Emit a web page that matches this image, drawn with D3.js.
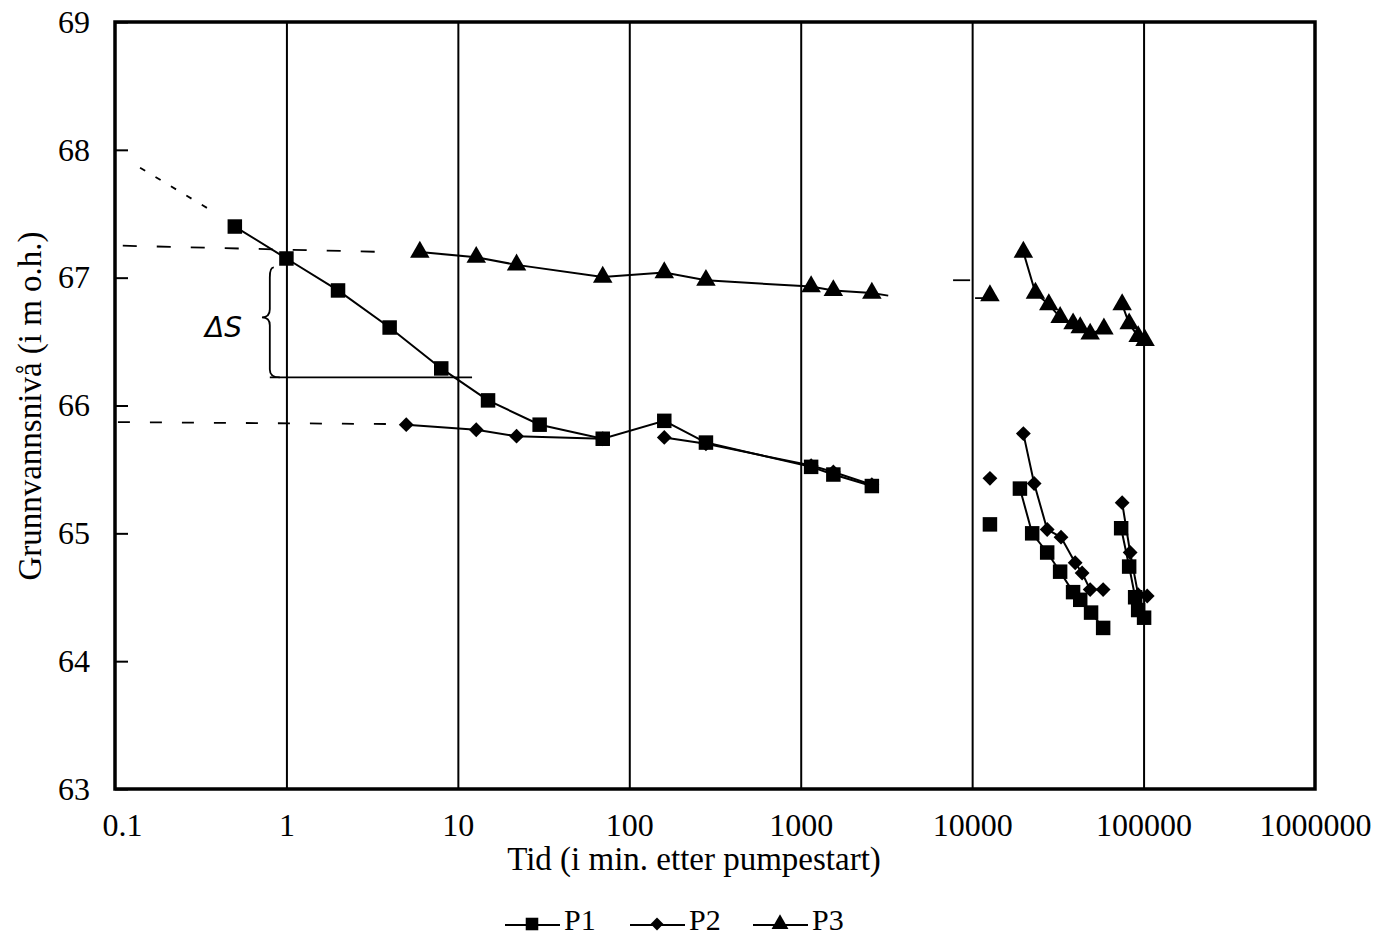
<!DOCTYPE html>
<html>
<head>
  <meta charset="utf-8">
  <title>Grunnvannsnivå</title>
  <script src="https://d3js.org/d3.v7.min.js"></script>
  <style>
    body { margin: 0; background: #fff; }
    svg text { font-family: "Liberation Serif", "Times New Roman", serif; fill: #000; }
    .serie path.linje { fill: none; stroke: #000; stroke-width: 2; }
    .hjelp { fill: none; stroke: #000; stroke-width: 1.8; }
  </style>
</head>
<body>
<svg id="graf" width="1389" height="941"></svg>
<script>
"use strict"

// akser
var tidTicks = [0.1, 1, 10, 100, 1000, 10000, 100000, 1000000];
var tidLabels = ["0.1", "1", "10", "100", "1000", "10000", "100000", "1000000"];
var nivaTicks = [63, 64, 65, 66, 67, 68, 69];

// måleserier (null = brudd i linja)
var p1Tid = [0.5, 1, 2, 4, 8, 15, 30, 70, 160, 280, 1150, 1550, 2600, null, 12700, null,
             19000, 22400, 27400, 32600, 38800, 42700, 49400, 58100, null,
             74000, 82400, 89300, 93000, 100700];
var p1Niva = [67.40, 67.15, 66.90, 66.61, 66.29, 66.04, 65.85, 65.74, 65.88, 65.71, 65.52, 65.46, 65.37, null, 65.07, null,
              65.35, 65.00, 64.85, 64.70, 64.54, 64.48, 64.38, 64.26, null,
              65.04, 64.74, 64.50, 64.40, 64.34];

var p2Tid = [5, 12.8, 22, 70, null, 160, 280, 1150, 1550, 2600, null, 12700, null,
             19900, 23000, 27400, 33000, 39900, 43800, 48800, 58100, null,
             75000, 83500, 93000, 105000];
var p2Niva = [65.85, 65.81, 65.76, 65.74, null, 65.75, 65.70, 65.53, 65.48, 65.38, null, 65.43, null,
              65.78, 65.39, 65.03, 64.97, 64.77, 64.69, 64.56, 64.56, null,
              65.24, 64.85, 64.52, 64.51];

var p3Tid = [6, 12.8, 22, 70, 160, 280, 1150, 1550, 2600, null, 12700, null,
             19900, 23400, 28000, 32600, 38800, 42700, 48800, 58700, null,
             75000, 82400, 93000, 102000];
var p3Niva = [67.20, 67.16, 67.10, 67.005, 67.04, 66.98, 66.93, 66.90, 66.88, null, 66.86, null,
              67.20, 66.88, 66.79, 66.69, 66.64, 66.61, 66.56, 66.60, null,
              66.79, 66.64, 66.54, 66.51];

// hjelpelinjer [tid1, niva1, tid2, niva2]
var ekstrapolering = [0.14, 67.86, 0.37, 67.52];
var startNivaP3 = [0.111, 67.25, 4.0, 67.20];
var startNivaP2 = [0.104, 65.87, 4.0, 65.855];
var forlengelseP3 = [2600, 66.88, 3240, 66.86];
var bruddStreker = [[7740, 66.98, 9730, 66.98], [10400, 66.84, 11900, 66.84]];
var deltaS = { tid: 0.80, spiss: 0.72, topp: 67.08, midt: 66.69, bunn: 66.22, slutt: 12.1 };
var deltaSTekst = { tid: 0.335, niva: 66.535 };

var serier = [
  { navn: "P1", tid: p1Tid, niva: p1Niva, symbol: d3.symbolSquare, str: 210, rot: 0 },
  { navn: "P2", tid: p2Tid, niva: p2Niva, symbol: d3.symbolSquare, str: 110, rot: 45 },
  { navn: "P3", tid: p3Tid, niva: p3Niva, symbol: d3.symbolTriangle, str: 165, rot: 0 }
];

var margin = { top: 22, right: 74, bottom: 152, left: 115 },
    bredde = 1389 - margin.left - margin.right,
    hoyde = 941 - margin.top - margin.bottom;

var svg = d3.select("#graf");
var g = svg.append("g").attr("transform", "translate(" + margin.left + "," + margin.top + ")");

var x = d3.scaleLog().domain([0.1, 1000000]).range([0, bredde]);
var y = d3.scaleLinear().domain([63, 69]).range([hoyde, 0]);

// vertikale linjer pr. dekade
g.append("g")
  .call(d3.axisBottom(x).tickValues(tidTicks.slice(1, -1)).tickSize(hoyde).tickFormat(""))
  .call(a => a.select(".domain").remove())
  .call(a => a.selectAll("line").attr("stroke-width", 2));

// x-akse tekst
g.append("g")
  .attr("transform", "translate(0," + hoyde + ")")
  .call(d3.axisBottom(x).tickValues(tidTicks).tickSize(0).tickPadding(24)
        .tickFormat((d, i) => tidLabels[i]))
  .call(a => a.select(".domain").remove())
  .call(a => a.selectAll("text").attr("font-size", 32).style("font-family", "Liberation Serif"))
  .call(a => a.selectAll(".tick").filter(d => d === 0.1).select("text").attr("dx", 7));

// y-akse
g.append("g")
  .call(d3.axisLeft(y).tickValues(nivaTicks).tickSize(-13).tickPadding(25).tickFormat(d3.format("d")))
  .call(a => a.select(".domain").remove())
  .call(a => a.selectAll("line").attr("stroke-width", 2))
  .call(a => a.selectAll("text").attr("font-size", 32).style("font-family", "Liberation Serif"));

// ramme
g.append("rect")
  .attr("x", 0).attr("y", 0).attr("width", bredde).attr("height", hoyde)
  .attr("fill", "none").attr("stroke", "#000").attr("stroke-width", 3.5);

// hjelpelinjer
function segment(s, dash) {
  g.append("line").attr("class", "hjelp")
    .attr("x1", x(s[0])).attr("y1", y(s[1]))
    .attr("x2", x(s[2])).attr("y2", y(s[3]))
    .attr("stroke-dasharray", dash);
}
segment(ekstrapolering, "6,12");
segment(startNivaP3, "14,20");
segment(startNivaP2, "12,20");
segment(forlengelseP3, null);
bruddStreker.forEach(s => segment(s, null));

// ΔS klamme
var bx = x(deltaS.tid), sx = x(deltaS.spiss);
var yt = y(deltaS.topp), ym = y(deltaS.midt), yb = y(deltaS.bunn);
var klamme = d3.path();
klamme.moveTo(bx + 4, yt);
klamme.quadraticCurveTo(bx, yt, bx, yt + 10);
klamme.lineTo(bx, ym - 8);
klamme.quadraticCurveTo(bx, ym, sx, ym);
klamme.quadraticCurveTo(bx, ym, bx, ym + 8);
klamme.lineTo(bx, yb - 8);
klamme.quadraticCurveTo(bx, yb, bx + 10, yb);
g.append("path").attr("class", "hjelp").attr("stroke-width", 1.5).attr("d", klamme.toString());
g.append("line").attr("class", "hjelp").attr("stroke-width", 1.5)
  .attr("x1", bx).attr("y1", yb).attr("x2", x(deltaS.slutt)).attr("y2", yb);
g.append("text")
  .attr("x", x(deltaSTekst.tid)).attr("y", y(deltaSTekst.niva))
  .attr("font-size", 28).attr("font-style", "italic")
  .style("font-family", "DejaVu Sans").style("font-weight", 200)
  .text("ΔS");

// serier
var linje = d3.line()
  .defined(d => d.niva != null)
  .x(d => x(d.tid)).y(d => y(d.niva));

serier.forEach(function (s) {
  var data = s.tid.map((t, i) => ({ tid: t, niva: s.niva[i] }));
  var gs = g.append("g").attr("class", "serie");
  gs.append("path").attr("class", "linje").attr("d", linje(data));
  gs.selectAll("path.punkt")
    .data(data.filter(d => d.niva != null))
    .enter().append("path")
    .attr("class", "punkt")
    .attr("d", d3.symbol().type(s.symbol).size(s.str))
    .attr("transform", d => "translate(" + x(d.tid) + "," + y(d.niva) + ") rotate(" + s.rot + ")")
    .attr("fill", "#000");
});

// aksetitler
svg.append("text")
  .attr("x", margin.left + bredde / 2 - 21).attr("y", 870)
  .attr("text-anchor", "middle").attr("font-size", 33)
  .text("Tid (i min. etter pumpestart)");

svg.append("text")
  .attr("transform", "translate(41," + 406 + ") rotate(-90)")
  .attr("text-anchor", "middle").attr("font-size", 33)
  .text("Grunnvannsnivå (i m o.h.)");

// forklaring
var legendeX = [505, 630, 753];
var leg = svg.append("g");
serier.forEach(function (s, i) {
  var lx = legendeX[i], ly = 925;
  leg.append("line").attr("x1", lx).attr("x2", lx + 55).attr("y1", ly).attr("y2", ly)
    .attr("stroke", "#000").attr("stroke-width", 2);
  leg.append("path")
    .attr("d", d3.symbol().type(s.symbol).size(s.str * 0.75))
    .attr("transform", "translate(" + (lx + 27) + "," + (ly - 1) + ") rotate(" + s.rot + ")")
    .attr("fill", "#000");
  leg.append("text").attr("x", lx + 59).attr("y", 930).attr("font-size", 30).text(s.navn);
});
</script>
</body>
</html>
